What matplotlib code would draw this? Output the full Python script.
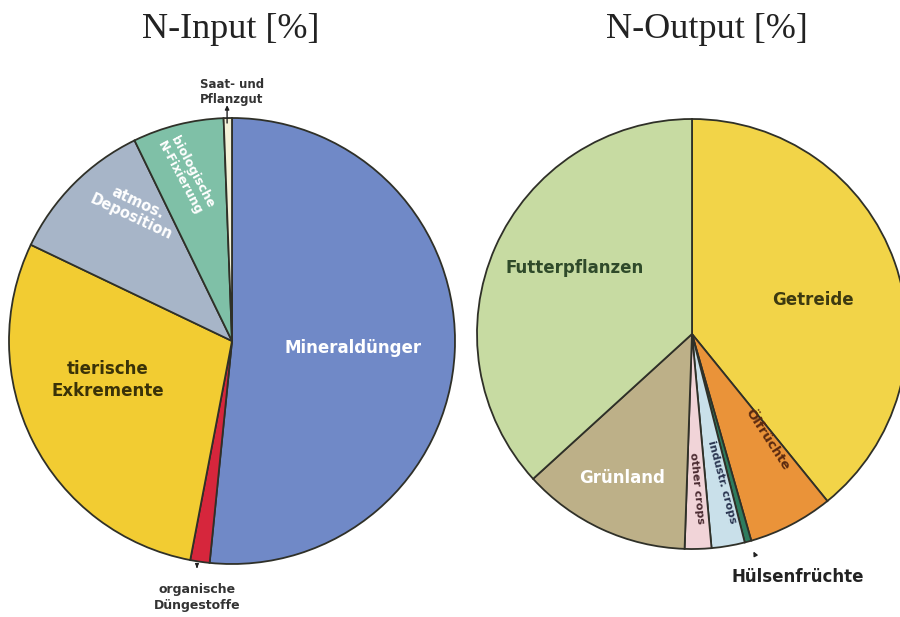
import matplotlib
matplotlib.use("Agg")
import matplotlib.pyplot as plt

# N-Input shares [%]
in_labels = ["Mineraldünger", "organische\nDüngestoffe", "tierische\nExkremente",
             "atmos.\nDeposition", "biologische\nN-Fixierung", "Saat- und\nPflanzgut"]
in_values = [51.6, 1.4, 29.1, 10.7, 6.6, 0.6]
in_colors = ["#7089c7", "#d6263c", "#f2cc32", "#a7b5c8", "#7fc0a7", "#f4f1d8"]

# N-Output shares [%]
out_labels = ["Getreide", "Ölfrüchte", "Hülsenfrüchte", "industr. crops",
              "other crops", "Grünland", "Futterpflanzen"]
out_values = [39.2, 6.4, 0.5, 2.5, 2.0, 12.7, 36.8]
out_colors = ["#f2d448", "#ea9339", "#2e7c5e", "#c9e0ea", "#f1d4d8", "#bdb088", "#c7dba2"]

fig = plt.figure(figsize=(9, 6.17), dpi=100)
fig.patch.set_facecolor("white")

edge = dict(edgecolor="#2f3028", linewidth=1.3)
bold = dict(family="DejaVu Sans", fontweight="bold", ha="center", va="center")

# left pie
ax1 = fig.add_axes([9 / 900, 53 / 617, 446 / 900, 446 / 617])
ax1.pie(in_values, colors=in_colors, startangle=90, counterclock=False,
        wedgeprops=edge)
ax1.set_xlim(-1, 1)
ax1.set_ylim(-1, 1)
ax1.set_aspect("auto")

ax1.text(0.543, -0.031, in_labels[0], color="white", fontsize=12, **bold)
ax1.text(-0.556, -0.175, in_labels[2], color="#3a3208", fontsize=12,
         linespacing=1.3, **bold)
ax1.text(-0.435, 0.587, in_labels[3], color="white", fontsize=10.5,
         rotation=-25, linespacing=1.1, **bold)
ax1.text(-0.205, 0.744, in_labels[4], color="white", fontsize=9,
         rotation=-62, linespacing=1.1, **bold)
ax1.text(0.0, 1.115, in_labels[5], color="#333333", fontsize=8.5,
         linespacing=1.2, clip_on=False, **bold)
ax1.text(-0.157, -1.148, in_labels[1], color="#333333", fontsize=9,
         linespacing=1.3, clip_on=False, **bold)
ax1.annotate("", xy=(-0.022, 1.07), xytext=(-0.022, 0.965),
             arrowprops=dict(arrowstyle="-|>", color="#222222", lw=1,
                             mutation_scale=6), annotation_clip=False)
ax1.annotate("", xy=(-0.157, -1.03), xytext=(-0.157, -1.0),
             arrowprops=dict(arrowstyle="-|>", color="#222222", lw=1,
                             mutation_scale=5), annotation_clip=False)

# right pie
ax2 = fig.add_axes([477 / 900, 68 / 617, 430 / 900, 430 / 617])
ax2.pie(out_values, colors=out_colors, startangle=90, counterclock=False,
        wedgeprops=edge)
ax2.set_xlim(-1, 1)
ax2.set_ylim(-1, 1)
ax2.set_aspect("auto")

ax2.text(0.563, 0.158, out_labels[0], color="#3d3a10", fontsize=12, **bold)
ax2.text(-0.544, 0.307, out_labels[6], color="#2f4a2a", fontsize=12, **bold)
ax2.text(-0.326, -0.670, out_labels[5], color="white", fontsize=12, **bold)
ax2.text(0.349, -0.493, out_labels[1], color="#5a2a10", fontsize=9.5,
         rotation=-57, **bold)
ax2.text(0.140, -0.688, out_labels[3], color="#2a3550", fontsize=8,
         rotation=-75, **bold)
ax2.text(0.023, -0.716, out_labels[4], color="#4a2a30", fontsize=8,
         rotation=-84, **bold)
ax2.text(0.49, -1.13, out_labels[2], color="#222222", fontsize=12,
         clip_on=False, **bold)
ax2.annotate("", xy=(0.28, -1.0), xytext=(0.30, -1.04),
             arrowprops=dict(arrowstyle="-|>", color="#222222", lw=1,
                             mutation_scale=6), annotation_clip=False)

# titles
fig.text(231 / 900, 1 - 30 / 617, "N-Input [%]", family="Liberation Serif",
         fontsize=26, ha="center", va="center", color="#222222")
fig.text(707 / 900, 1 - 30 / 617, "N-Output [%]", family="Liberation Serif",
         fontsize=26, ha="center", va="center", color="#222222")

fig.savefig("out.png", dpi=100)
